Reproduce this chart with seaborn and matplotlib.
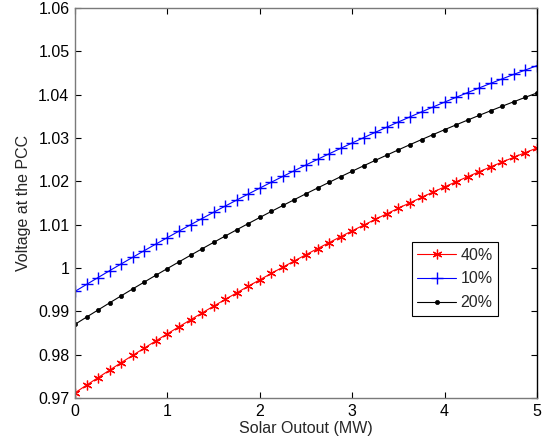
import matplotlib
matplotlib.use("Agg")
import matplotlib.pyplot as plt
import seaborn as sns
import pandas as pd

solar_mw = [0.0, 0.125, 0.25, 0.375, 0.5, 0.625, 0.75, 0.875, 1.0, 1.125,
            1.25, 1.375, 1.5, 1.625, 1.75, 1.875, 2.0, 2.125, 2.25, 2.375,
            2.5, 2.625, 2.75, 2.875, 3.0, 3.125, 3.25, 3.375, 3.5, 3.625,
            3.75, 3.875, 4.0, 4.125, 4.25, 4.375, 4.5, 4.625, 4.75, 4.875, 5.0]

v_40 = [0.97120, 0.97297, 0.97471, 0.97644, 0.97816, 0.97985, 0.98152, 0.98318,
        0.98482, 0.98644, 0.98804, 0.98963, 0.99120, 0.99274, 0.99427, 0.99579,
        0.99728, 0.99876, 1.00021, 1.00165, 1.00308, 1.00448, 1.00586, 1.00723,
        1.00858, 1.00991, 1.01122, 1.01252, 1.01380, 1.01505, 1.01629, 1.01752,
        1.01872, 1.01991, 1.02107, 1.02222, 1.02336, 1.02447, 1.02556, 1.02664,
        1.02770]

v_10 = [0.99460, 0.99621, 0.99780, 0.99938, 1.00094, 1.00248, 1.00401, 1.00552,
        1.00702, 1.00850, 1.00997, 1.01142, 1.01286, 1.01428, 1.01568, 1.01707,
        1.01844, 1.01980, 1.02114, 1.02247, 1.02378, 1.02507, 1.02635, 1.02761,
        1.02886, 1.03009, 1.03131, 1.03251, 1.03370, 1.03487, 1.03602, 1.03716,
        1.03828, 1.03939, 1.04048, 1.04156, 1.04262, 1.04366, 1.04469, 1.04570,
        1.04670]

v_20 = [0.98700, 0.98867, 0.99032, 0.99196, 0.99358, 0.99518, 0.99676, 0.99833,
        0.99988, 1.00141, 1.00293, 1.00443, 1.00591, 1.00737, 1.00882, 1.01025,
        1.01166, 1.01306, 1.01443, 1.01579, 1.01714, 1.01846, 1.01977, 1.02107,
        1.02234, 1.02360, 1.02484, 1.02606, 1.02727, 1.02846, 1.02963, 1.03078,
        1.03192, 1.03304, 1.03414, 1.03523, 1.03630, 1.03735, 1.03838, 1.03940,
        1.04040]

series_labels = ["40%", "10%", "20%"]
x_ticks = [0, 1, 2, 3, 4, 5]
x_tick_labels = ["0", "1", "2", "3", "4", "5"]
y_ticks = [0.97, 0.98, 0.99, 1.00, 1.01, 1.02, 1.03, 1.04, 1.05, 1.06]
y_tick_labels = ["0.97", "0.98", "0.99", "1", "1.01", "1.02", "1.03", "1.04", "1.05", "1.06"]

sns.set_theme(style="white")
plt.rcParams['font.family'] = ['Liberation Sans', 'DejaVu Sans']

fig = plt.figure(figsize=(5.48, 4.45), dpi=100)
ax = fig.add_axes([75/548, 47/445, 462/548, 390/445])

styles = [
    dict(color="#ff0000", marker=(6, 2, 0), markersize=7, markeredgewidth=0.9),
    dict(color="#0000ff", marker="+", markersize=8, markeredgewidth=1.0),
    dict(color="#000000", marker="o", markersize=3, markeredgewidth=0.5),
]
for vals, lab, st in zip([v_40, v_10, v_20], series_labels, styles):
    df = pd.DataFrame({"x": solar_mw, "y": vals})
    sns.lineplot(data=df, x="x", y="y", ax=ax, label=lab, linewidth=0.8,
                 sort=False, estimator=None, linestyle="-", dashes=False,
                 markeredgecolor=st["color"], markerfacecolor=st["color"], **st)

ax.set_xlim(0, 5)
ax.set_ylim(0.97, 1.06)
ax.set_xticks(x_ticks)
ax.set_xticklabels(x_tick_labels)
ax.set_yticks(y_ticks)
ax.set_yticklabels(y_tick_labels)
ax.tick_params(axis="both", which="both", direction="in", length=4, width=0.8,
               labelsize=11.5, colors="#000000", top=True, right=True,
               bottom=True, left=True, pad=4)
for side in ["left", "bottom", "top"]:
    ax.spines[side].set_color("#7a7a7a")
    ax.spines[side].set_linewidth(1.0)
ax.spines["right"].set_color("#000000")
ax.spines["right"].set_linewidth(1.0)

ax.set_xlabel("Solar Outout (MW)", fontsize=11.5, labelpad=2)
ax.set_ylabel("Voltage at the PCC", fontsize=11.5, labelpad=5)

leg = ax.legend(loc="upper left", bbox_to_anchor=(0.729, 0.40), fontsize=11.5,
                frameon=True, fancybox=False, edgecolor="#000000",
                handlelength=2.4, handletextpad=0.3, labelspacing=0.55,
                borderpad=0.35, borderaxespad=0.0, framealpha=1.0)
leg.get_frame().set_linewidth(0.8)

fig.savefig("out.png", dpi=100, facecolor="white")
